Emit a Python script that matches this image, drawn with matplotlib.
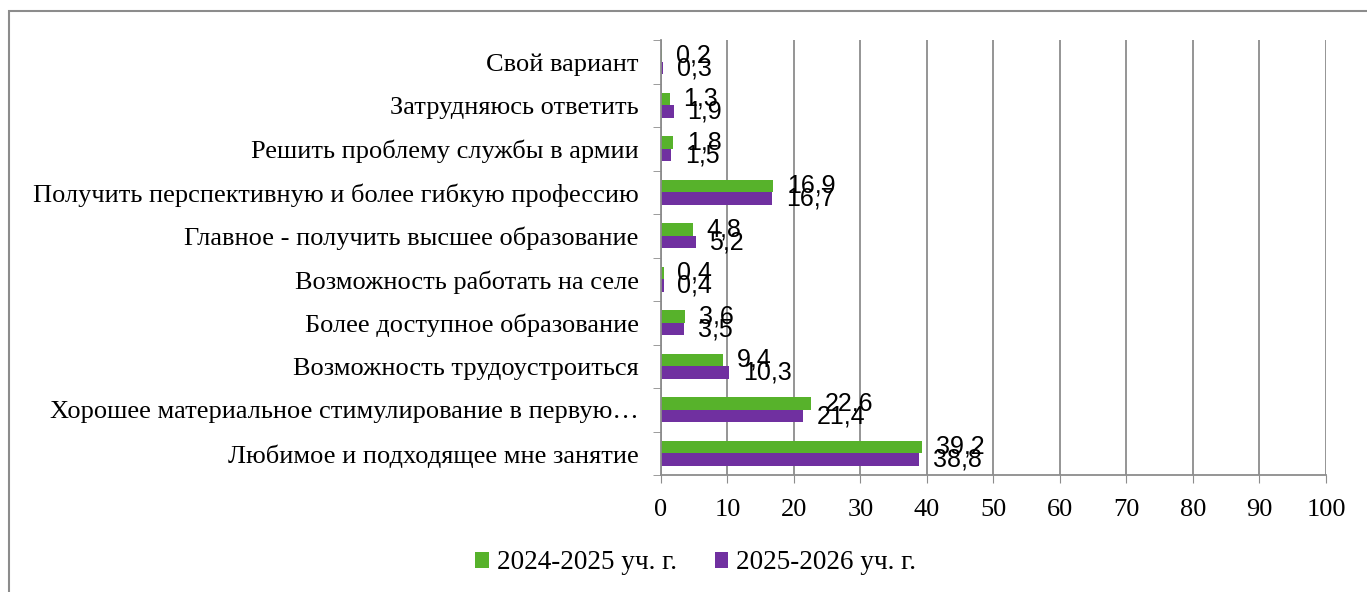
import matplotlib
matplotlib.use("Agg")
import matplotlib.pyplot as plt
from matplotlib.patches import Rectangle
import numpy as np

categories = [
    "Любимое и подходящее мне занятие",
    "Хорошее материальное стимулирование в первую…",
    "Возможность трудоустроиться",
    "Более доступное образование",
    "Возможность работать на селе",
    "Главное - получить высшее образование",
    "Получить перспективную и более гибкую профессию",
    "Решить проблему службы в армии",
    "Затрудняюсь ответить",
    "Свой вариант",
]
year_2024 = [39.2, 22.6, 9.4, 3.6, 0.4, 4.8, 16.9, 1.8, 1.3, 0.2]
year_2025 = [38.8, 21.4, 10.3, 3.5, 0.4, 5.2, 16.7, 1.5, 1.9, 0.3]
series_names = ["2024-2025 уч. г.", "2025-2026 уч. г."]

green = "#57B22B"
purple = "#7030A0"
grey = "#8C8C8C"
serif = "Liberation Serif"
sans = "Liberation Sans"

fig = plt.figure(figsize=(13.67, 5.92), dpi=100)
ax = fig.add_axes([0.4835, 0.1976, 0.4865, 0.7348])

y = np.arange(len(categories))
h = 0.29
b1 = ax.barh(y + h / 2, year_2024, height=h, color=green, label=series_names[0])
b2 = ax.barh(y - h / 2, year_2025, height=h, color=purple, label=series_names[1])

# подписи значений с запятой
for bars, vals in ((b1, year_2024), (b2, year_2025)):
    for rect, v in zip(bars, vals):
        ax.annotate(str(v).replace(".", ","),
                    (rect.get_width(), rect.get_y() + rect.get_height() / 2),
                    xytext=(10, 0), textcoords="offset points",
                    va="center", ha="left", fontsize=18, family=sans)

ax.set_xlim(0, 100)
ax.set_ylim(-0.5, len(categories) - 0.5)
ax.set_xticks(np.arange(0, 101, 10))
ax.tick_params(axis="x", labelsize=19, length=6, color=grey, pad=11)
for lab in ax.get_xticklabels():
    lab.set_family(serif)

ax.set_yticks(y)
ax.set_yticklabels(categories, fontsize=19, family=serif)
ax.tick_params(axis="y", which="major", length=0, pad=16)
ax.set_yticks(np.arange(-0.5, len(categories), 1), minor=True)
ax.tick_params(axis="y", which="minor", length=6, color=grey)

ax.grid(axis="x", color=grey, linewidth=1.3)
ax.set_axisbelow(True)
for side in ("top", "right"):
    ax.spines[side].set_visible(False)
for side in ("left", "bottom"):
    ax.spines[side].set_color(grey)
    ax.spines[side].set_linewidth(1.3)

fig.legend(handles=[b1, b2], loc="center", bbox_to_anchor=(0.509, 0.049),
           ncol=2, frameon=False, prop={"family": serif, "size": 19.5},
           handlelength=0.5, handleheight=0.5, handletextpad=0.3,
           columnspacing=1.4)

fig.patches.append(Rectangle((9 / 1367, -0.05), 1.1, 1.05 - 11 / 592,
                             transform=fig.transFigure, fill=False,
                             edgecolor=grey, linewidth=1.5))

fig.savefig("out.png", dpi=100)
